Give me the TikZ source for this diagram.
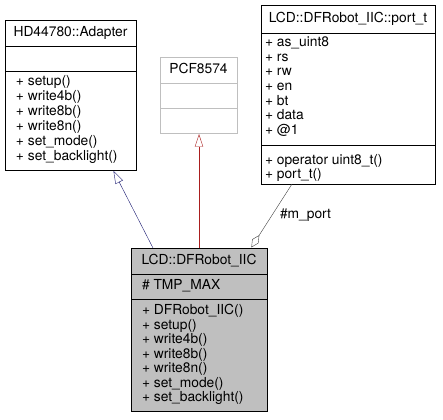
\documentclass[tikz,border=0pt]{standalone}
\usepackage{fontspec}
\setmainfont{TeX Gyre Heros}
\usetikzlibrary{arrows.meta}
\definecolor{pubblue}{RGB}{25,25,112}
\definecolor{privred}{RGB}{170,30,30}
\definecolor{usegray}{RGB}{64,64,64}
\definecolor{boxgray}{RGB}{191,191,191}

\begin{document}
\begin{tikzpicture}[x=1pt, y=-1pt]
\tikzset{ inner sep=0pt, outer sep=0pt, line width=1pt,
  txt/.style={font=\fontsize{13.8}{15}\selectfont, text height=9.5pt, text depth=2.5pt},
  memb/.style={txt, anchor=west},
  inh/.style={-{Triangle[open, length=14pt, width=9pt]}},
  comp/.style={-{Diamond[open, length=16pt, width=8pt]}} }

\useasboundingbox (0,0) rectangle (443,419);

%%% Blocos

% HD44780::Adapter
\coordinate (AD0) at (5,20);
\coordinate (AD1) at (136,170);
\draw (AD0) rectangle (AD1);
\draw (5,46) -- (136,46);
\draw (5,71) -- (136,71);
\node[txt] (ADname) at (70.5,33) {HD44780::Adapter};
\node[memb] (ADm1) at (16,82)  {+ setup()};
\node[memb] (ADm2) at (16,97)  {+ write4b()};
\node[memb] (ADm3) at (16,112) {+ write8b()};
\node[memb] (ADm4) at (16,127) {+ write8n()};
\node[memb] (ADm5) at (16,142) {+ set\_mode()};
\node[memb] (ADm6) at (16,157) {+ set\_backlight()};

% PCF8574
\coordinate (PCF0) at (160,57);
\coordinate (PCF1) at (237,133);
\draw[boxgray] (PCF0) rectangle (PCF1);
\draw[boxgray] (160,83) -- (237,83);
\draw[boxgray] (160,108) -- (237,108);
\node[txt] (PCFname) at (198.5,70) {PCF8574};

% LCD::DFRobot_IIC::port_t
\coordinate (PT0) at (261,5);
\coordinate (PT1) at (435,184);
\draw (PT0) rectangle (PT1);
\draw (261,33) -- (435,33);
\draw (261,145) -- (435,145);
\node[txt] (PTname) at (348,19) {LCD::DFRobot\_IIC::port\_t};
\node[memb] (PTa1) at (265,43)    {+ as\_uint8};
\node[memb] (PTa2) at (265,57.7)  {+ rs};
\node[memb] (PTa3) at (265,72.3)  {+ rw};
\node[memb] (PTa4) at (265,87)    {+ en};
\node[memb] (PTa5) at (265,101.7) {+ bt};
\node[memb] (PTa6) at (265,116.3) {+ data};
\node[memb] (PTa7) at (265,131)   {+ @1};
\node[memb] (PTm1) at (265,161)   {+ operator uint8\_t()};
\node[memb] (PTm2) at (265,175)   {+ port\_t()};

% LCD::DFRobot_IIC
\coordinate (DF0) at (131,248);
\coordinate (DF1) at (267,411);
\filldraw[fill=boxgray] (DF0) rectangle (DF1);
\draw (131,274) -- (267,274);
\draw (131,299) -- (267,299);
\node[txt] (DFname) at (199,261) {LCD::DFRobot\_IIC};
\node[memb] (DFa1) at (142,286)   {\# TMP\_MAX};
\node[memb] (DFm1) at (142,311)   {+ DFRobot\_IIC()};
\node[memb] (DFm2) at (142,325.5) {+ setup()};
\node[memb] (DFm3) at (142,340)   {+ write4b()};
\node[memb] (DFm4) at (142,354.5) {+ write8b()};
\node[memb] (DFm5) at (142,369)   {+ write8n()};
\node[memb] (DFm6) at (142,383.5) {+ set\_mode()};
\node[memb] (DFm7) at (142,398)   {+ set\_backlight()};

%%% Linhas

% DFRobot_IIC -> Adapter
\coordinate (ADin)  at (113,170);
\coordinate (DFad)  at (153,248);
\draw[inh, pubblue] (DFad) -- (ADin);

% DFRobot_IIC -> PCF8574
\coordinate (PCFin) at (199,133);
\coordinate (DFpcf) at (199,248);
\draw[inh, privred] (DFpcf) -- (PCFin);

% port_t -> DFRobot_IIC
\coordinate (PTout) at (292,184);
\coordinate (DFpt)  at (251,248);
\draw[comp, usegray] (PTout) -- (DFpt);
\node[memb] (mport) at (280,215) {\#m\_port};

\end{tikzpicture}
\end{document}
